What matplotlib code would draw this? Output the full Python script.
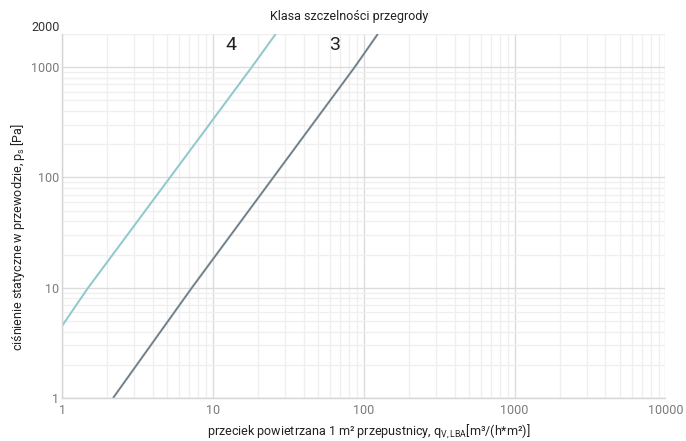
import matplotlib
matplotlib.use("Agg")
import matplotlib.pyplot as plt
from matplotlib.ticker import FixedLocator, NullFormatter, LogLocator
import numpy as np

# curves (leakage q vs static pressure p)
q_class4 = [1.0, 1.49, 5.2, 18.1, 26.1]
p_class4 = [4.5, 10, 100, 1000, 2000]
q_class3 = [2.18, 7.26, 87.1, 124.0]
p_class3 = [1, 10, 1000, 2000]

class_labels = ["4", "3"]
class_label_q = [13.2, 64.0]
class_label_p = 1600

x_ticks = [1, 10, 100, 1000, 10000]
y_ticks = [1, 10, 100, 1000]

plt.rcParams['font.family'] = ['Roboto', 'DejaVu Sans']

fig = plt.figure(figsize=(6.86, 4.41), dpi=100)
ax = fig.add_axes([0.0904, 0.0975, 0.8796, 0.8255])

ax.set_xscale('log')
ax.set_yscale('log')
ax.set_xlim(1, 10000)
ax.set_ylim(1, 2000)

# grid
ax.xaxis.set_major_locator(FixedLocator(x_ticks))
ax.yaxis.set_major_locator(FixedLocator(y_ticks))
ax.xaxis.set_minor_locator(LogLocator(base=10, subs=np.arange(2, 10), numticks=20))
ax.yaxis.set_minor_locator(LogLocator(base=10, subs=np.arange(2, 10), numticks=20))
ax.xaxis.set_minor_formatter(NullFormatter())
ax.yaxis.set_minor_formatter(NullFormatter())
ax.set_xticklabels([str(v) for v in x_ticks])
ax.set_yticklabels([str(v) for v in y_ticks])
ax.grid(which='major', color='#dcdcdc', linewidth=1.0)
ax.grid(which='minor', color='#efefef', linewidth=0.9)
ax.set_axisbelow(True)

ax.tick_params(which='both', length=0)
ax.tick_params(axis='x', pad=4.5, labelsize=9, labelcolor='#7a7a7a')
ax.tick_params(axis='y', pad=2, labelsize=9, labelcolor='#7a7a7a')
ax.text(-0.004, 1.0, "2000", transform=ax.transAxes, ha='right', va='bottom',
        fontsize=9, color='#333333')

for side in ['top', 'right']:
    ax.spines[side].set_visible(False)
for side in ['left', 'bottom']:
    ax.spines[side].set_color('#d5d5d5')
    ax.spines[side].set_linewidth(1.0)

# curves (pale edge + darker core like the original)
ax.plot(q_class4, p_class4, color='#a6d5d9', linewidth=1.6, solid_capstyle='butt')
ax.plot(q_class4, p_class4, color='#86bcc2', linewidth=0.5, solid_capstyle='butt')
ax.plot(q_class3, p_class3, color='#95a2aa', linewidth=1.6, solid_capstyle='butt')
ax.plot(q_class3, p_class3, color='#56656f', linewidth=0.5, solid_capstyle='butt')

for lab, q in zip(class_labels, class_label_q):
    ax.text(q, class_label_p, lab, fontsize=14, color='#222222',
            ha='center', va='center')

ax.text(0.475, 1.047, "Klasa szczelności przegrody", transform=ax.transAxes,
        fontsize=9, color='#222222', ha='center', va='center')
ax.set_xlabel(r"przeciek powietrzana 1 m² przepustnicy, q$_\mathregular{V,LBA}$[m³/(h*m²)]",
              fontsize=9, color='#222222', va='center')
ax.xaxis.set_label_coords(0.508, -0.092)
ax.set_ylabel(r"ciśnienie statyczne w przewodzie, p$_\mathregular{s}$ [Pa]",
              fontsize=9, color='#222222', va='center')
ax.yaxis.set_label_coords(-0.073, 0.442)

fig.savefig("out.png", dpi=100)
